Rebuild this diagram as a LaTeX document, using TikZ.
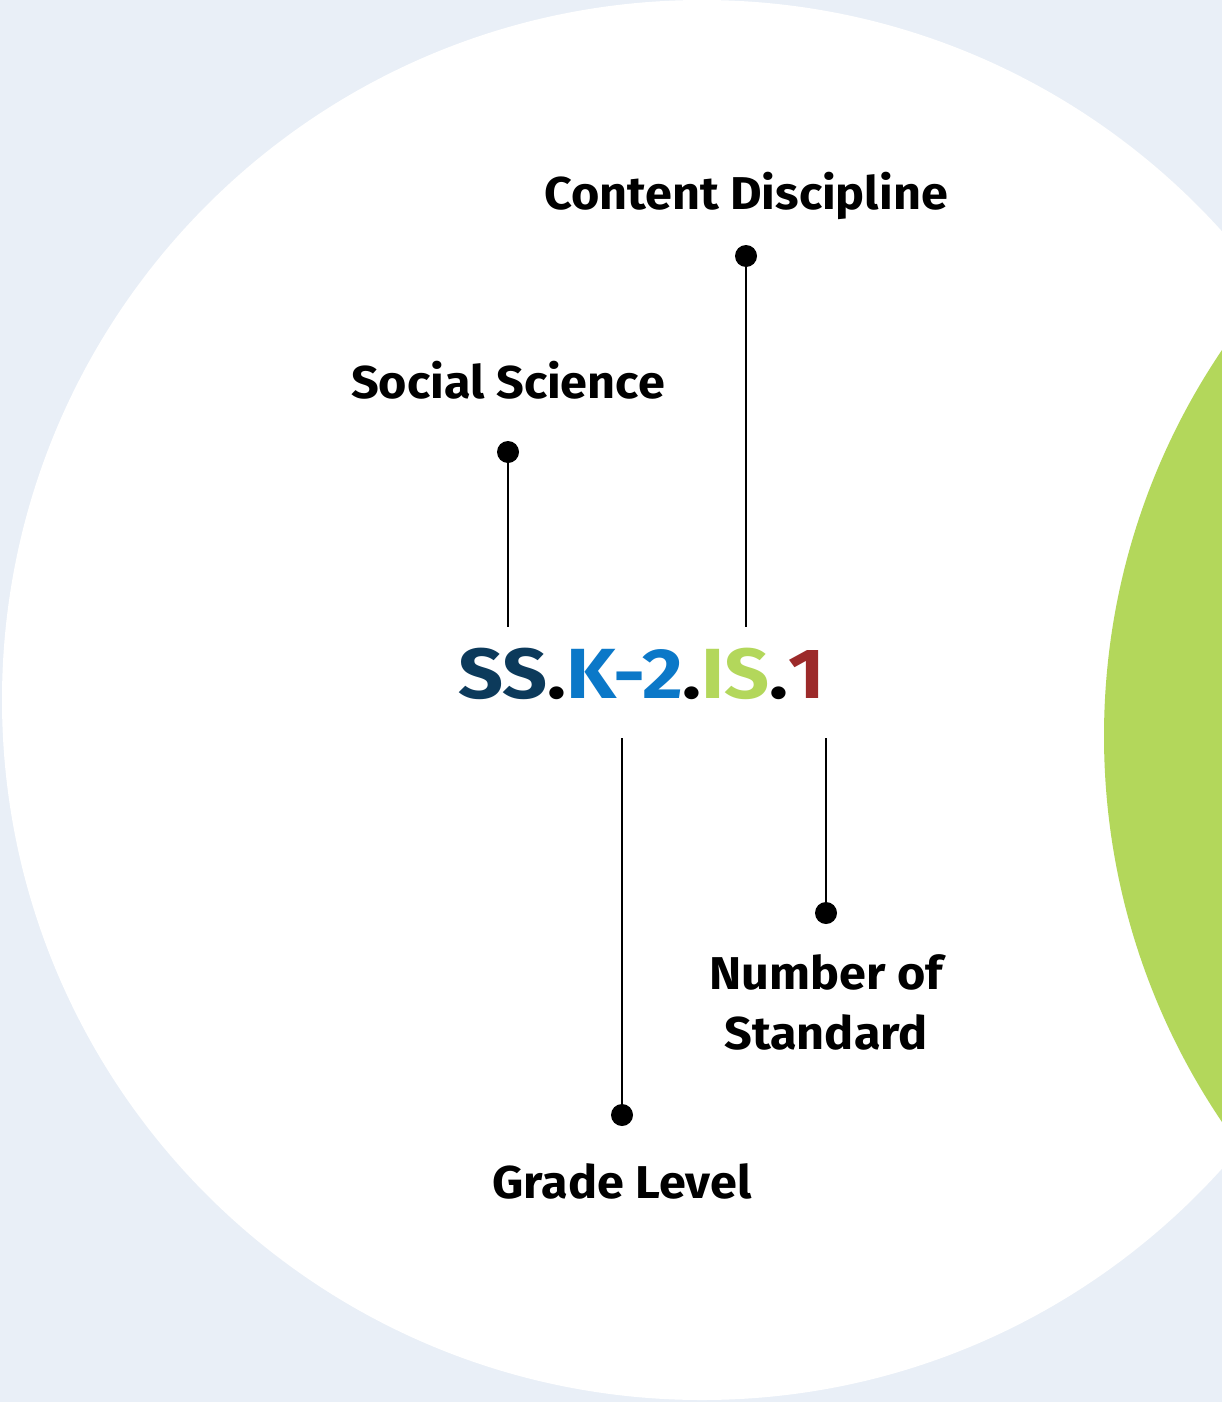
\documentclass[tikz,border=0pt]{standalone}
\usepackage{fontspec}
\setmainfont{Fira Sans}
\newfontfamily\tagfont[FakeStretch=1.055]{Fira Sans}
\newfontfamily\codefont[FakeStretch=1.11]{Fira Sans}
\definecolor{pagebg}{HTML}{E9EFF7}
\definecolor{leafgreen}{HTML}{B3D75B}
\definecolor{codenavy}{HTML}{0C3A5B}
\definecolor{codeblue}{HTML}{0B78C8}
\definecolor{codered}{HTML}{9C2A2A}
\begin{document}
\begin{tikzpicture}[x=1pt,y=-1pt,
  tag/.style={font=\tagfont\fontsize{46}{60}\selectfont\bfseries, text=black, inner sep=0pt, align=center},
  pin/.style={circle, fill=black, minimum size=22pt, inner sep=0pt},
  lead/.style={line width=1.6pt, black}]
  % page and backdrop circles
  \fill[pagebg] (0,0) rectangle (1222,1402);
  \useasboundingbox (0,0) rectangle (1222,1402);
  \fill[white] (702,700) circle[radius=700pt];
  \begin{scope}
    \clip (0,0) rectangle (1222,1402);
    \fill[leafgreen] (1794,736) circle[radius=690pt];
  \end{scope}

  % the standard code
  \node[inner sep=0pt, anchor=base, font=\codefont\fontsize{71}{80}\selectfont\bfseries] (code) at (642,698)
    {\textcolor{codenavy}{SS}.\textcolor{codeblue}{K-2}.\textcolor{leafgreen}{IS}.\textcolor{codered}{1}};

  % connector ends at the code
  \coordinate (ssEnd) at (508,627);
  \coordinate (cdEnd) at (746,627);
  \coordinate (glEnd) at (622,738);
  \coordinate (nsEnd) at (826,738);

  % pins
  \node[pin] (ssPin) at (508,452) {};
  \node[pin] (cdPin) at (746,256) {};
  \node[pin] (glPin) at (622,1115) {};
  \node[pin] (nsPin) at (826,913) {};

  % labels
  \node[tag, anchor=base] (ssTag) at (508,398) {Social Science};
  \node[tag, anchor=base] (cdTag) at (746,209) {Content Discipline};
  \node[tag, anchor=base] (glTag) at (622,1198) {Grade Level};
  \node[tag, anchor=north] (nsTag) at (826,954) {Number of\\Standard};

  % leader lines
  \draw[lead] (ssPin.center) -- (ssEnd);
  \draw[lead] (cdPin.center) -- (cdEnd);
  \draw[lead] (glEnd) -- (glPin.center);
  \draw[lead] (nsEnd) -- (nsPin.center);
\end{tikzpicture}
\end{document}
